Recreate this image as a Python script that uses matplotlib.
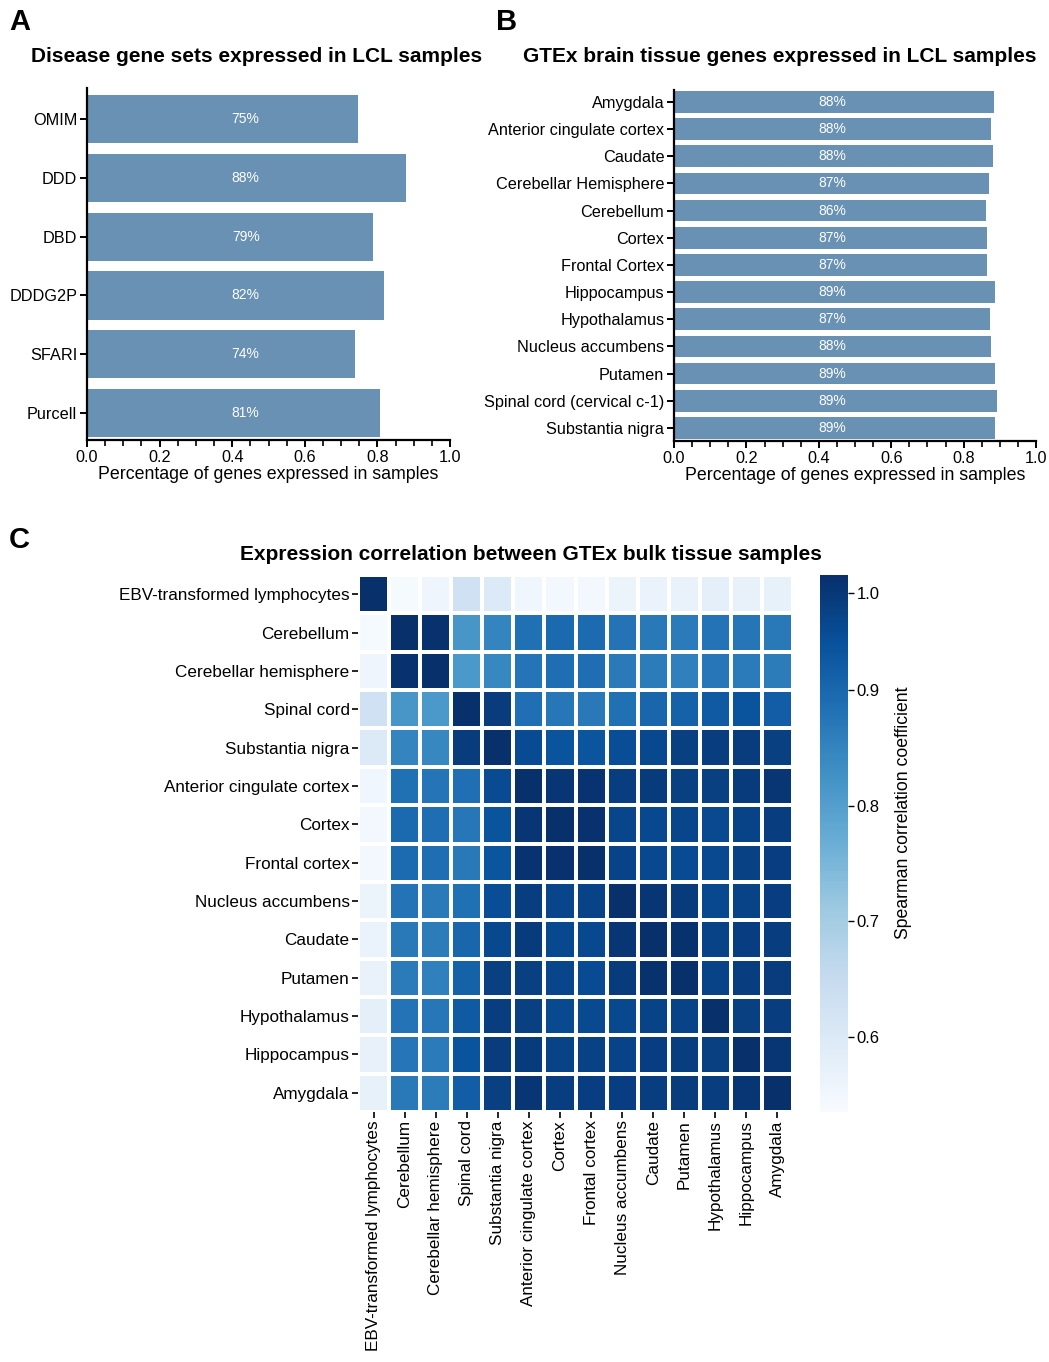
import matplotlib
matplotlib.use("Agg")
import matplotlib.pyplot as plt
import matplotlib.ticker as mticker
import numpy as np

plt.rcParams.update({
    "font.family": ["Liberation Sans", "DejaVu Sans"],
    "font.size": 11.7,
    "axes.linewidth": 1.6,
    "xtick.major.width": 1.4,
    "ytick.major.width": 1.4,
    "xtick.minor.width": 1.2,
    "xtick.major.size": 5,
    "xtick.minor.size": 4,
    "ytick.major.size": 5,
    "xtick.major.pad": 2,
    "ytick.major.pad": 2,
})

BAR_COLOR = "#6891b3"
W, H = 1049, 1362

# ── Panel A: disease gene sets ─────────────────────────
disease_sets = ["OMIM", "DDD", "DBD", "DDDG2P", "SFARI", "Purcell"]
disease_frac = [0.746, 0.879, 0.787, 0.818, 0.739, 0.806]

# ── Panel B: GTEx brain tissue genes ───────────────────
brain_tissues = ["Amygdala", "Anterior cingulate cortex", "Caudate",
                 "Cerebellar Hemisphere", "Cerebellum", "Cortex",
                 "Frontal Cortex", "Hippocampus", "Hypothalamus",
                 "Nucleus accumbens", "Putamen", "Spinal cord (cervical c-1)",
                 "Substantia nigra"]
brain_frac = [0.883, 0.877, 0.880, 0.869, 0.863, 0.866, 0.866,
              0.886, 0.872, 0.876, 0.888, 0.891, 0.888]

# ── Panel C: Spearman correlation between bulk tissues ─
tissues = ["EBV-transformed lymphocytes", "Cerebellum", "Cerebellar hemisphere",
           "Spinal cord", "Substantia nigra", "Anterior cingulate cortex",
           "Cortex", "Frontal cortex", "Nucleus accumbens", "Caudate",
           "Putamen", "Hypothalamus", "Hippocampus", "Amygdala"]
rho_ebv      = [1.000, 0.540, 0.555, 0.630, 0.600, 0.552, 0.545, 0.547, 0.562, 0.566, 0.568, 0.580, 0.570, 0.572]
rho_cbl      = [0.540, 1.000, 0.995, 0.818, 0.850, 0.884, 0.897, 0.893, 0.879, 0.870, 0.866, 0.880, 0.876, 0.871]
rho_cbl_hem  = [0.555, 0.995, 1.000, 0.812, 0.845, 0.878, 0.889, 0.888, 0.868, 0.865, 0.858, 0.874, 0.867, 0.864]
rho_spinal   = [0.630, 0.818, 0.812, 1.000, 0.977, 0.886, 0.874, 0.871, 0.884, 0.902, 0.910, 0.925, 0.935, 0.920]
rho_sn       = [0.600, 0.850, 0.845, 0.977, 1.000, 0.952, 0.936, 0.934, 0.948, 0.957, 0.972, 0.976, 0.977, 0.971]
rho_acc      = [0.552, 0.884, 0.878, 0.886, 0.952, 1.000, 0.990, 0.994, 0.976, 0.980, 0.972, 0.972, 0.980, 0.990]
rho_cortex   = [0.545, 0.897, 0.889, 0.874, 0.936, 0.990, 1.000, 0.997, 0.963, 0.958, 0.962, 0.955, 0.966, 0.976]
rho_frontal  = [0.547, 0.893, 0.888, 0.871, 0.934, 0.994, 0.997, 1.000, 0.966, 0.957, 0.952, 0.955, 0.968, 0.973]
rho_nacc     = [0.562, 0.879, 0.868, 0.884, 0.948, 0.976, 0.963, 0.966, 1.000, 0.990, 0.980, 0.958, 0.966, 0.974]
rho_caudate  = [0.566, 0.870, 0.865, 0.902, 0.957, 0.980, 0.958, 0.957, 0.990, 1.000, 0.995, 0.966, 0.974, 0.976]
rho_putamen  = [0.568, 0.866, 0.858, 0.910, 0.972, 0.972, 0.962, 0.952, 0.980, 0.995, 1.000, 0.966, 0.976, 0.978]
rho_hypoth   = [0.580, 0.880, 0.874, 0.925, 0.976, 0.972, 0.955, 0.955, 0.958, 0.966, 0.966, 1.000, 0.972, 0.976]
rho_hippo    = [0.570, 0.876, 0.867, 0.935, 0.977, 0.980, 0.966, 0.968, 0.966, 0.974, 0.976, 0.972, 1.000, 0.990]
rho_amygdala = [0.572, 0.871, 0.864, 0.920, 0.971, 0.990, 0.976, 0.973, 0.974, 0.976, 0.978, 0.976, 0.990, 1.000]

cbar_ticks = [0.6, 0.7, 0.8, 0.9, 0.984]
cbar_ticklabels = ["0.6", "0.7", "0.8", "0.9", "1.0"]


def px_axes(fig, x0, y0, x1, y1):
    """Axes from pixel box (top-left origin)."""
    return fig.add_axes([x0 / W, 1 - y1 / H, (x1 - x0) / W, (y1 - y0) / H])


def bar_panel(ax, labels, values, height, ylim):
    y = np.arange(len(labels))
    ax.barh(y, values, height=height, color=BAR_COLOR)
    for yi, v in zip(y, values):
        ax.text(0.437, yi, f"{v * 100:.0f}%", ha="center", va="center",
                color="white", fontsize=10)
    ax.set_yticks(y)
    ax.set_yticklabels(labels)
    ax.set_ylim(*ylim)
    ax.set_xlim(0, 1)
    ax.xaxis.set_major_locator(mticker.MultipleLocator(0.2))
    ax.xaxis.set_minor_locator(mticker.MultipleLocator(0.05))
    ax.xaxis.set_major_formatter(mticker.FormatStrFormatter("%.1f"))
    ax.set_xlabel("Percentage of genes expressed in samples", fontsize=12.8, labelpad=1)
    for side in ("top", "right"):
        ax.spines[side].set_visible(False)


fig = plt.figure(figsize=(W / 100, H / 100), dpi=100)

ax_a = px_axes(fig, 87, 88, 450, 440)
bar_panel(ax_a, disease_sets, disease_frac, 0.82, (5.46, -0.53))

ax_b = px_axes(fig, 674, 90, 1036, 441)
bar_panel(ax_b, brain_tissues, brain_frac, 0.80, (12.48, -0.44))

fig.text(257 / W, 1 - 56 / H, "Disease gene sets expressed in LCL samples",
         ha="center", va="center", fontsize=15, fontweight="bold")
fig.text(780 / W, 1 - 56 / H, "GTEx brain tissue genes expressed in LCL samples",
         ha="center", va="center", fontsize=15, fontweight="bold")
fig.text(531 / W, 1 - 554 / H, "Expression correlation between GTEx bulk tissue samples",
         ha="center", va="center", fontsize=15, fontweight="bold")
for letter, x, y in (("A", 9, 22), ("B", 496, 22), ("C", 9, 540)):
    fig.text(x / W, 1 - y / H, letter, ha="left", va="center",
             fontsize=21, fontweight="bold")

# heatmap
corr = np.array([rho_ebv, rho_cbl, rho_cbl_hem, rho_spinal, rho_sn, rho_acc,
                 rho_cortex, rho_frontal, rho_nacc, rho_caudate, rho_putamen,
                 rho_hypoth, rho_hippo, rho_amygdala])
n = len(tissues)

ax_c = px_axes(fig, 358, 575, 793, 1112)
mesh = ax_c.pcolormesh(np.arange(n + 1), np.arange(n + 1), corr, cmap="Blues",
                       vmin=0.535, vmax=1.0, edgecolors="white", linewidth=1.5)
ax_c.set_xlim(0, n)
ax_c.set_ylim(n, 0)
ax_c.set_xticks(np.arange(n) + 0.5)
ax_c.set_xticklabels(tissues, rotation=90, fontsize=12.3)
ax_c.set_yticks(np.arange(n) + 0.5)
ax_c.set_yticklabels(tissues, fontsize=12.3)
ax_c.tick_params(length=4, width=1.2)
for sp in ax_c.spines.values():
    sp.set_visible(False)

cax = px_axes(fig, 820, 575, 848, 1112)
cbar = fig.colorbar(mesh, cax=cax)
cbar.outline.set_visible(False)
cbar.set_ticks(cbar_ticks)
cbar.set_ticklabels(cbar_ticklabels)
cbar.ax.tick_params(length=4, width=1.0, labelsize=12)
fig.text(903 / W, 1 - 813 / H, "Spearman correlation coefficient",
         rotation=90, ha="center", va="center", fontsize=12.7)

fig.savefig("out.png", dpi=100)
